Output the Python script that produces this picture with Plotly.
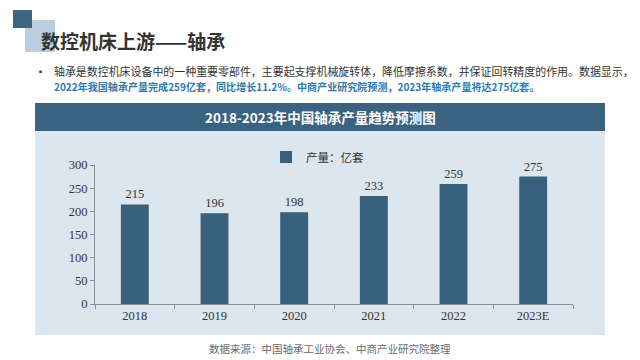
import plotly.graph_objects as go

years = ["2018", "2019", "2020", "2021", "2022", "2023E"]
output = [215, 196, 198, 233, 259, 275]
series_name = "产量：亿套"
page_title = "数控机床上游——轴承"
para1 = "轴承是数控机床设备中的一种重要零部件，主要起支撑机械旋转体，降低摩擦系数，并保证回转精度的作用。数据显示，"
para2 = "2022年我国轴承产量完成259亿套，同比增长11.2%。中商产业研究院预测，2023年轴承产量将达275亿套。"
chart_title = "2018-2023年中国轴承产量趋势预测图"
source = "数据来源：中国轴承工业协会、中商产业研究院整理"

W, H = 640, 360
L, R, T, B = 95, 573, 165, 304

def px(x):
    return (x - L) / (R - L)

def py(y):
    return (B - y) / (B - T)

BAR = "#385f7b"
HEAD = "#3a6381"
PANEL = "#dce6ef"
SERIF = "Liberation Serif, DejaVu Serif, Noto Sans CJK SC, serif"
SANS = "Noto Sans CJK SC, Noto Sans, sans-serif"

fig = go.Figure()
fig.add_trace(go.Bar(
    x=years, y=output, name=series_name,
    marker=dict(color=BAR, line=dict(width=0)),
    width=0.35,
    text=[str(v) for v in output], textposition="outside",
    textfont=dict(family=SERIF, size=12.5, color="#333333"),
    cliponaxis=False,
))

shapes = [
    dict(type="rect", xref="paper", yref="paper", x0=px(35), x1=px(605), y0=py(335), y1=py(103),
         fillcolor=PANEL, line=dict(width=0), layer="below"),
    dict(type="rect", xref="paper", yref="paper", x0=px(35), x1=px(605), y0=py(131), y1=py(103),
         fillcolor=HEAD, line=dict(width=0), layer="below"),
    dict(type="rect", xref="paper", yref="paper", x0=px(25), x1=px(55), y0=py(52), y1=py(20),
         fillcolor="#b9cfe0", line=dict(width=0), layer="below"),
    dict(type="rect", xref="paper", yref="paper", x0=px(13), x1=px(32), y0=py(28), y1=py(10),
         fillcolor="#3d6582", line=dict(width=0), layer="below"),
]

annotations = [
    dict(text="<b>" + page_title + "</b>", x=px(39), y=py(40), xref="paper", yref="paper",
         xanchor="left", yanchor="middle", showarrow=False,
         font=dict(family=SANS, size=19, color="#333333")),
    dict(text="▪", x=px(40), y=py(71), xref="paper", yref="paper",
         xanchor="center", yanchor="middle", showarrow=False,
         font=dict(family=SANS, size=9, color="#333333")),
    dict(text=para1, x=px(52), y=py(71), xref="paper", yref="paper",
         xanchor="left", yanchor="middle", showarrow=False,
         font=dict(family=SANS, size=10.95, color="#333333")),
    dict(text="<b>" + para2 + "</b>", x=px(52), y=py(87), xref="paper", yref="paper",
         xanchor="left", yanchor="middle", showarrow=False,
         font=dict(family=SANS, size=10.05, color="#2f7bae")),
    dict(text="<b>" + chart_title + "</b>", x=px(320), y=py(117), xref="paper", yref="paper",
         xanchor="center", yanchor="middle", showarrow=False,
         font=dict(family=SANS, size=13.5, color="white")),
    dict(text=source, x=px(330), y=py(348), xref="paper", yref="paper",
         xanchor="center", yanchor="middle", showarrow=False,
         font=dict(family=SANS, size=10.5, color="#6a6a6a")),
]

fig.update_layout(
    width=W, height=H,
    margin=dict(l=L, r=W - R, t=T, b=H - B, pad=0),
    paper_bgcolor="white", plot_bgcolor="rgba(0,0,0,0)",
    showlegend=True,
    legend=dict(x=px(266), y=py(157), xanchor="left", yanchor="middle", orientation="h",
                bgcolor="rgba(0,0,0,0)", font=dict(family=SERIF, size=11.5, color="#333333"),
                itemwidth=30),
    shapes=shapes, annotations=annotations,
    xaxis=dict(type="category", showgrid=False, showline=True, linecolor="#8a8f94", linewidth=1,
               ticks="outside", tickson="boundaries", ticklen=4, tickcolor="#8a8f94",
               tickfont=dict(family=SERIF, size=12.5, color="#333333"), zeroline=False),
    yaxis=dict(range=[0, 300], dtick=50, showgrid=False, showline=True, linecolor="#8a8f94",
               linewidth=1, ticks="outside", ticklen=4, tickcolor="#8a8f94",
               tickfont=dict(family=SERIF, size=12.5, color="#333333"), zeroline=False),
)

fig.write_html("out.html", config={"displayModeBar": False},
               post_script="document.body.style.margin='0';document.body.style.overflow='hidden';")
